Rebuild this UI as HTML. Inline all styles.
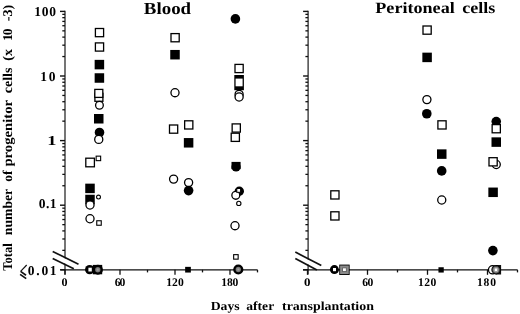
<!DOCTYPE html>
<html><head><meta charset="utf-8"><style>
html,body{margin:0;padding:0;background:#fff;}
body{width:520px;height:314px;overflow:hidden;font-family:"Liberation Serif",serif;}
svg{display:block;filter:blur(0.3px);}
</style></head><body>
<svg width="520" height="314" viewBox="0 0 520 314">
<defs><radialGradient id="gg"><stop offset="0" stop-color="#a8a8a8"/><stop offset="1" stop-color="#6a6a6a"/></radialGradient></defs>
<rect width="520" height="314" fill="#fff"/>
<line x1="65.00" y1="10.80" x2="65.00" y2="274.50" stroke="#111" stroke-width="1.15"/>
<line x1="60.00" y1="269.80" x2="65.00" y2="269.80" stroke="#111" stroke-width="1.4"/>
<line x1="62.30" y1="250.35" x2="65.00" y2="250.35" stroke="#111" stroke-width="1.3"/>
<line x1="62.30" y1="238.98" x2="65.00" y2="238.98" stroke="#111" stroke-width="1.3"/>
<line x1="62.30" y1="230.91" x2="65.00" y2="230.91" stroke="#111" stroke-width="1.3"/>
<line x1="62.30" y1="224.65" x2="65.00" y2="224.65" stroke="#111" stroke-width="1.3"/>
<line x1="62.30" y1="219.53" x2="65.00" y2="219.53" stroke="#111" stroke-width="1.3"/>
<line x1="62.30" y1="215.21" x2="65.00" y2="215.21" stroke="#111" stroke-width="1.3"/>
<line x1="62.30" y1="211.46" x2="65.00" y2="211.46" stroke="#111" stroke-width="1.3"/>
<line x1="62.30" y1="208.16" x2="65.00" y2="208.16" stroke="#111" stroke-width="1.3"/>
<line x1="60.00" y1="205.20" x2="65.00" y2="205.20" stroke="#111" stroke-width="1.4"/>
<line x1="62.30" y1="185.75" x2="65.00" y2="185.75" stroke="#111" stroke-width="1.3"/>
<line x1="62.30" y1="174.38" x2="65.00" y2="174.38" stroke="#111" stroke-width="1.3"/>
<line x1="62.30" y1="166.31" x2="65.00" y2="166.31" stroke="#111" stroke-width="1.3"/>
<line x1="62.30" y1="160.05" x2="65.00" y2="160.05" stroke="#111" stroke-width="1.3"/>
<line x1="62.30" y1="154.93" x2="65.00" y2="154.93" stroke="#111" stroke-width="1.3"/>
<line x1="62.30" y1="150.61" x2="65.00" y2="150.61" stroke="#111" stroke-width="1.3"/>
<line x1="62.30" y1="146.86" x2="65.00" y2="146.86" stroke="#111" stroke-width="1.3"/>
<line x1="62.30" y1="143.56" x2="65.00" y2="143.56" stroke="#111" stroke-width="1.3"/>
<line x1="60.00" y1="140.60" x2="65.00" y2="140.60" stroke="#111" stroke-width="1.4"/>
<line x1="62.30" y1="121.15" x2="65.00" y2="121.15" stroke="#111" stroke-width="1.3"/>
<line x1="62.30" y1="109.78" x2="65.00" y2="109.78" stroke="#111" stroke-width="1.3"/>
<line x1="62.30" y1="101.71" x2="65.00" y2="101.71" stroke="#111" stroke-width="1.3"/>
<line x1="62.30" y1="95.45" x2="65.00" y2="95.45" stroke="#111" stroke-width="1.3"/>
<line x1="62.30" y1="90.33" x2="65.00" y2="90.33" stroke="#111" stroke-width="1.3"/>
<line x1="62.30" y1="86.01" x2="65.00" y2="86.01" stroke="#111" stroke-width="1.3"/>
<line x1="62.30" y1="82.26" x2="65.00" y2="82.26" stroke="#111" stroke-width="1.3"/>
<line x1="62.30" y1="78.96" x2="65.00" y2="78.96" stroke="#111" stroke-width="1.3"/>
<line x1="60.00" y1="76.00" x2="65.00" y2="76.00" stroke="#111" stroke-width="1.4"/>
<line x1="62.30" y1="56.55" x2="65.00" y2="56.55" stroke="#111" stroke-width="1.3"/>
<line x1="62.30" y1="45.18" x2="65.00" y2="45.18" stroke="#111" stroke-width="1.3"/>
<line x1="62.30" y1="37.11" x2="65.00" y2="37.11" stroke="#111" stroke-width="1.3"/>
<line x1="62.30" y1="30.85" x2="65.00" y2="30.85" stroke="#111" stroke-width="1.3"/>
<line x1="62.30" y1="25.73" x2="65.00" y2="25.73" stroke="#111" stroke-width="1.3"/>
<line x1="62.30" y1="21.41" x2="65.00" y2="21.41" stroke="#111" stroke-width="1.3"/>
<line x1="62.30" y1="17.66" x2="65.00" y2="17.66" stroke="#111" stroke-width="1.3"/>
<line x1="62.30" y1="14.36" x2="65.00" y2="14.36" stroke="#111" stroke-width="1.3"/>
<line x1="60.00" y1="11.40" x2="65.00" y2="11.40" stroke="#111" stroke-width="1.4"/>
<line x1="308.10" y1="10.80" x2="308.10" y2="274.50" stroke="#111" stroke-width="1.15"/>
<line x1="303.10" y1="269.80" x2="308.10" y2="269.80" stroke="#111" stroke-width="1.4"/>
<line x1="305.40" y1="250.35" x2="308.10" y2="250.35" stroke="#111" stroke-width="1.3"/>
<line x1="305.40" y1="238.98" x2="308.10" y2="238.98" stroke="#111" stroke-width="1.3"/>
<line x1="305.40" y1="230.91" x2="308.10" y2="230.91" stroke="#111" stroke-width="1.3"/>
<line x1="305.40" y1="224.65" x2="308.10" y2="224.65" stroke="#111" stroke-width="1.3"/>
<line x1="305.40" y1="219.53" x2="308.10" y2="219.53" stroke="#111" stroke-width="1.3"/>
<line x1="305.40" y1="215.21" x2="308.10" y2="215.21" stroke="#111" stroke-width="1.3"/>
<line x1="305.40" y1="211.46" x2="308.10" y2="211.46" stroke="#111" stroke-width="1.3"/>
<line x1="305.40" y1="208.16" x2="308.10" y2="208.16" stroke="#111" stroke-width="1.3"/>
<line x1="303.10" y1="205.20" x2="308.10" y2="205.20" stroke="#111" stroke-width="1.4"/>
<line x1="305.40" y1="185.75" x2="308.10" y2="185.75" stroke="#111" stroke-width="1.3"/>
<line x1="305.40" y1="174.38" x2="308.10" y2="174.38" stroke="#111" stroke-width="1.3"/>
<line x1="305.40" y1="166.31" x2="308.10" y2="166.31" stroke="#111" stroke-width="1.3"/>
<line x1="305.40" y1="160.05" x2="308.10" y2="160.05" stroke="#111" stroke-width="1.3"/>
<line x1="305.40" y1="154.93" x2="308.10" y2="154.93" stroke="#111" stroke-width="1.3"/>
<line x1="305.40" y1="150.61" x2="308.10" y2="150.61" stroke="#111" stroke-width="1.3"/>
<line x1="305.40" y1="146.86" x2="308.10" y2="146.86" stroke="#111" stroke-width="1.3"/>
<line x1="305.40" y1="143.56" x2="308.10" y2="143.56" stroke="#111" stroke-width="1.3"/>
<line x1="303.10" y1="140.60" x2="308.10" y2="140.60" stroke="#111" stroke-width="1.4"/>
<line x1="305.40" y1="121.15" x2="308.10" y2="121.15" stroke="#111" stroke-width="1.3"/>
<line x1="305.40" y1="109.78" x2="308.10" y2="109.78" stroke="#111" stroke-width="1.3"/>
<line x1="305.40" y1="101.71" x2="308.10" y2="101.71" stroke="#111" stroke-width="1.3"/>
<line x1="305.40" y1="95.45" x2="308.10" y2="95.45" stroke="#111" stroke-width="1.3"/>
<line x1="305.40" y1="90.33" x2="308.10" y2="90.33" stroke="#111" stroke-width="1.3"/>
<line x1="305.40" y1="86.01" x2="308.10" y2="86.01" stroke="#111" stroke-width="1.3"/>
<line x1="305.40" y1="82.26" x2="308.10" y2="82.26" stroke="#111" stroke-width="1.3"/>
<line x1="305.40" y1="78.96" x2="308.10" y2="78.96" stroke="#111" stroke-width="1.3"/>
<line x1="303.10" y1="76.00" x2="308.10" y2="76.00" stroke="#111" stroke-width="1.4"/>
<line x1="305.40" y1="56.55" x2="308.10" y2="56.55" stroke="#111" stroke-width="1.3"/>
<line x1="305.40" y1="45.18" x2="308.10" y2="45.18" stroke="#111" stroke-width="1.3"/>
<line x1="305.40" y1="37.11" x2="308.10" y2="37.11" stroke="#111" stroke-width="1.3"/>
<line x1="305.40" y1="30.85" x2="308.10" y2="30.85" stroke="#111" stroke-width="1.3"/>
<line x1="305.40" y1="25.73" x2="308.10" y2="25.73" stroke="#111" stroke-width="1.3"/>
<line x1="305.40" y1="21.41" x2="308.10" y2="21.41" stroke="#111" stroke-width="1.3"/>
<line x1="305.40" y1="17.66" x2="308.10" y2="17.66" stroke="#111" stroke-width="1.3"/>
<line x1="305.40" y1="14.36" x2="308.10" y2="14.36" stroke="#111" stroke-width="1.3"/>
<line x1="303.10" y1="11.40" x2="308.10" y2="11.40" stroke="#111" stroke-width="1.4"/>
<line x1="60.50" y1="269.80" x2="257.50" y2="269.80" stroke="#111" stroke-width="1.3"/>
<line x1="65.00" y1="269.80" x2="65.00" y2="274.80" stroke="#111" stroke-width="1.3"/>
<line x1="92.50" y1="269.80" x2="92.50" y2="272.40" stroke="#111" stroke-width="1.3"/>
<line x1="120.00" y1="269.80" x2="120.00" y2="274.80" stroke="#111" stroke-width="1.3"/>
<line x1="147.50" y1="269.80" x2="147.50" y2="272.40" stroke="#111" stroke-width="1.3"/>
<line x1="175.00" y1="269.80" x2="175.00" y2="274.80" stroke="#111" stroke-width="1.3"/>
<line x1="202.50" y1="269.80" x2="202.50" y2="272.40" stroke="#111" stroke-width="1.3"/>
<line x1="230.00" y1="269.80" x2="230.00" y2="274.80" stroke="#111" stroke-width="1.3"/>
<line x1="257.50" y1="269.80" x2="257.50" y2="272.40" stroke="#111" stroke-width="1.3"/>
<line x1="303.00" y1="269.80" x2="517.50" y2="269.80" stroke="#111" stroke-width="1.3"/>
<line x1="307.50" y1="269.80" x2="307.50" y2="274.80" stroke="#111" stroke-width="1.3"/>
<line x1="337.50" y1="269.80" x2="337.50" y2="272.40" stroke="#111" stroke-width="1.3"/>
<line x1="367.50" y1="269.80" x2="367.50" y2="274.80" stroke="#111" stroke-width="1.3"/>
<line x1="397.50" y1="269.80" x2="397.50" y2="272.40" stroke="#111" stroke-width="1.3"/>
<line x1="427.50" y1="269.80" x2="427.50" y2="274.80" stroke="#111" stroke-width="1.3"/>
<line x1="457.50" y1="269.80" x2="457.50" y2="272.40" stroke="#111" stroke-width="1.3"/>
<line x1="487.50" y1="269.80" x2="487.50" y2="274.80" stroke="#111" stroke-width="1.3"/>
<line x1="517.50" y1="269.80" x2="517.50" y2="272.40" stroke="#111" stroke-width="1.3"/>
<polygon points="59.00,255.43 71.00,261.38 71.00,266.52 59.00,260.61" fill="#fff"/>
<line x1="52.70" y1="251.40" x2="78.50" y2="264.20" stroke="#111" stroke-width="1.7"/>
<line x1="52.70" y1="258.40" x2="73.80" y2="268.80" stroke="#111" stroke-width="1.7"/>
<polygon points="302.10,256.53 314.10,262.76 314.10,267.62 302.10,261.29" fill="#fff"/>
<line x1="295.30" y1="252.10" x2="321.30" y2="265.60" stroke="#111" stroke-width="1.7"/>
<line x1="295.30" y1="258.60" x2="316.90" y2="270.00" stroke="#111" stroke-width="1.7"/>
<path d="M26.7,265.0 L20.6,271.4" fill="none" stroke="#111" stroke-width="1.2"/>
<path d="M20.6,271.4 L26.0,275.3" fill="none" stroke="#111" stroke-width="1.7"/>
<path d="M20.1,274.4 L26.2,278.6" fill="none" stroke="#111" stroke-width="1.7"/>
<rect x="95.40" y="28.50" width="8.20" height="8.20" fill="#fff" stroke="#000" stroke-width="1.3"/>
<rect x="95.40" y="42.90" width="8.20" height="8.20" fill="#fff" stroke="#000" stroke-width="1.3"/>
<rect x="94.65" y="59.85" width="9.50" height="9.50" fill="#000"/>
<rect x="94.65" y="73.25" width="9.50" height="9.50" fill="#000"/>
<rect x="94.90" y="93.30" width="8.00" height="8.00" fill="#fff" stroke="#000" stroke-width="1.3"/>
<rect x="94.80" y="89.40" width="8.00" height="8.00" fill="#fff" stroke="#000" stroke-width="1.3"/>
<circle cx="99.45" cy="105.25" r="3.85" fill="#fff" stroke="#000" stroke-width="1.3"/>
<rect x="94.00" y="114.00" width="9.50" height="9.50" fill="#000"/>
<circle cx="99.50" cy="132.50" r="4.80" fill="#000"/>
<circle cx="98.75" cy="139.40" r="4.05" fill="#fff" stroke="#000" stroke-width="1.3"/>
<rect x="85.80" y="158.20" width="8.60" height="8.60" fill="#fff" stroke="#000" stroke-width="1.3"/>
<rect x="96.15" y="156.15" width="4.50" height="4.50" fill="#fff" stroke="#000" stroke-width="1.1"/>
<rect x="85.25" y="183.65" width="9.50" height="9.50" fill="#000"/>
<rect x="85.25" y="194.75" width="9.50" height="9.50" fill="#000"/>
<circle cx="90.00" cy="205.00" r="4.05" fill="#fff" stroke="#000" stroke-width="1.3"/>
<circle cx="98.50" cy="197.10" r="1.95" fill="#fff" stroke="#000" stroke-width="1.1"/>
<circle cx="90.00" cy="218.75" r="4.05" fill="#fff" stroke="#000" stroke-width="1.3"/>
<rect x="96.75" y="220.75" width="4.50" height="4.50" fill="#fff" stroke="#000" stroke-width="1.1"/>
<circle cx="89.70" cy="269.60" r="4.70" fill="#000"/>
<rect x="88.4" y="267.7" width="3.4" height="3.8" fill="#fff"/>
<rect x="92.80" y="264.90" width="9.40" height="9.40" fill="#000"/>
<circle cx="97.90" cy="269.70" r="5.00" fill="#000"/>
<circle cx="97.8" cy="269.7" r="2.7" fill="url(#gg)"/>
<rect x="171.00" y="33.60" width="8.20" height="8.20" fill="#fff" stroke="#000" stroke-width="1.3"/>
<rect x="170.25" y="49.95" width="9.50" height="9.50" fill="#000"/>
<circle cx="175.00" cy="92.70" r="4.05" fill="#fff" stroke="#000" stroke-width="1.3"/>
<rect x="169.50" y="125.00" width="8.20" height="8.20" fill="#fff" stroke="#000" stroke-width="1.3"/>
<rect x="184.65" y="120.80" width="8.20" height="8.20" fill="#fff" stroke="#000" stroke-width="1.3"/>
<rect x="183.85" y="138.05" width="9.50" height="9.50" fill="#000"/>
<circle cx="173.60" cy="179.10" r="4.05" fill="#fff" stroke="#000" stroke-width="1.3"/>
<circle cx="188.60" cy="182.60" r="4.05" fill="#fff" stroke="#000" stroke-width="1.3"/>
<circle cx="188.60" cy="190.60" r="4.80" fill="#000"/>
<rect x="185.15" y="266.85" width="5.70" height="5.70" fill="#000"/>
<circle cx="235.40" cy="18.90" r="4.80" fill="#000"/>
<rect x="235.00" y="64.40" width="8.20" height="8.20" fill="#fff" stroke="#000" stroke-width="1.3"/>
<rect x="234.3" y="75.0" width="9.6" height="15.2" fill="#000"/>
<rect x="235.6" y="78.6" width="7.0" height="7.7" fill="#fff"/>
<circle cx="239.10" cy="94.40" r="4.05" fill="#fff" stroke="#000" stroke-width="1.3"/>
<circle cx="239.10" cy="97.00" r="4.05" fill="#fff" stroke="#000" stroke-width="1.3"/>
<rect x="232.15" y="123.90" width="8.20" height="8.20" fill="#fff" stroke="#000" stroke-width="1.3"/>
<rect x="231.20" y="133.20" width="8.20" height="8.20" fill="#fff" stroke="#000" stroke-width="1.3"/>
<rect x="231.5" y="161.9" width="9.1" height="7.3" fill="#000"/>
<circle cx="236.05" cy="166.90" r="4.60" fill="#000"/>
<circle cx="239.30" cy="191.20" r="4.70" fill="#000"/>
<circle cx="235.80" cy="195.30" r="3.95" fill="#fff" stroke="#000" stroke-width="1.3"/>
<rect x="236.80" y="188.50" width="3.80" height="3.80" fill="#fff" stroke="#000" stroke-width="1.0"/>
<circle cx="238.80" cy="203.40" r="2.15" fill="#fff" stroke="#000" stroke-width="1.1"/>
<circle cx="235.00" cy="225.70" r="4.05" fill="#fff" stroke="#000" stroke-width="1.3"/>
<rect x="233.65" y="254.65" width="4.50" height="4.50" fill="#fff" stroke="#000" stroke-width="1.1"/>
<circle cx="238.30" cy="269.50" r="5.10" fill="#000"/>
<circle cx="238.3" cy="269.5" r="2.7" fill="url(#gg)"/>
<rect x="330.80" y="190.80" width="8.20" height="8.20" fill="#fff" stroke="#000" stroke-width="1.3"/>
<rect x="330.80" y="211.80" width="8.20" height="8.20" fill="#fff" stroke="#000" stroke-width="1.3"/>
<rect x="340.10" y="265.45" width="8.70" height="8.70" fill="#fff" stroke="#000" stroke-width="1.7"/>
<rect x="340.1" y="265.5" width="8.7" height="8.6" fill="#8a8a8a"/>
<rect x="342.6" y="267.9" width="3.7" height="3.7" fill="#fff" stroke="#555" stroke-width="0.8"/>
<circle cx="334.40" cy="269.60" r="4.50" fill="#000"/>
<rect x="333.0" y="268.0" width="3.0" height="3.2" fill="#fff"/>
<rect x="423.00" y="26.00" width="8.20" height="8.20" fill="#fff" stroke="#000" stroke-width="1.3"/>
<rect x="422.35" y="52.65" width="9.50" height="9.50" fill="#000"/>
<circle cx="426.90" cy="99.60" r="4.05" fill="#fff" stroke="#000" stroke-width="1.3"/>
<circle cx="426.80" cy="113.75" r="4.80" fill="#000"/>
<rect x="437.90" y="120.80" width="8.20" height="8.20" fill="#fff" stroke="#000" stroke-width="1.3"/>
<rect x="437.00" y="149.35" width="9.50" height="9.50" fill="#000"/>
<circle cx="441.70" cy="170.90" r="4.80" fill="#000"/>
<circle cx="441.75" cy="200.00" r="4.05" fill="#fff" stroke="#000" stroke-width="1.3"/>
<rect x="438.45" y="267.25" width="5.30" height="5.30" fill="#000"/>
<circle cx="496.25" cy="121.60" r="4.80" fill="#000"/>
<rect x="492.15" y="124.60" width="8.20" height="8.20" fill="#fff" stroke="#000" stroke-width="1.3"/>
<rect x="491.50" y="137.35" width="9.50" height="9.50" fill="#000"/>
<circle cx="496.25" cy="164.50" r="4.05" fill="#fff" stroke="#000" stroke-width="1.3"/>
<rect x="489.00" y="157.70" width="8.20" height="8.20" fill="#fff" stroke="#000" stroke-width="1.3"/>
<rect x="488.35" y="187.55" width="9.50" height="9.50" fill="#000"/>
<circle cx="492.90" cy="250.60" r="4.80" fill="#000"/>
<circle cx="492.60" cy="269.80" r="4.15" fill="#fff" stroke="#000" stroke-width="1.3"/>
<rect x="495.5" y="265.0" width="5.6" height="9.5" fill="#111"/>
<circle cx="496.10" cy="269.75" r="4.75" fill="#000"/>
<circle cx="496.0" cy="269.8" r="3.5" fill="#8e8e8e" stroke="#333" stroke-width="0.7"/>
<rect x="494.3" y="268.1" width="3.4" height="3.4" fill="#fff" stroke="#888" stroke-width="0.6"/>
<text x="143.89" y="13.74" font-family="Liberation Serif" font-weight="bold" text-rendering="geometricPrecision" font-size="17.00" textLength="47.25" lengthAdjust="spacingAndGlyphs">Blood</text>
<text x="375.31" y="12.75" font-family="Liberation Serif" font-weight="bold" text-rendering="geometricPrecision" font-size="15.80" textLength="79.45" lengthAdjust="spacingAndGlyphs">Peritoneal</text>
<text x="462.33" y="12.75" font-family="Liberation Serif" font-weight="bold" text-rendering="geometricPrecision" font-size="15.80" textLength="33.04" lengthAdjust="spacingAndGlyphs">cells</text>
<text x="210.67" y="309.90" font-family="Liberation Serif" font-weight="bold" text-rendering="geometricPrecision" font-size="12.40" textLength="28.99" lengthAdjust="spacingAndGlyphs">Days</text>
<text x="246.34" y="309.90" font-family="Liberation Serif" font-weight="bold" text-rendering="geometricPrecision" font-size="12.40" textLength="27.82" lengthAdjust="spacingAndGlyphs">after</text>
<text x="282.09" y="309.90" font-family="Liberation Serif" font-weight="bold" text-rendering="geometricPrecision" font-size="12.40" textLength="91.83" lengthAdjust="spacingAndGlyphs">transplantation</text>
<text x="34.26" y="16.14" font-family="Liberation Serif" font-weight="bold" text-rendering="geometricPrecision" font-size="13.50" textLength="21.82" lengthAdjust="spacing">100</text>
<text x="40.26" y="80.54" font-family="Liberation Serif" font-weight="bold" text-rendering="geometricPrecision" font-size="13.50" textLength="15.24" lengthAdjust="spacing">10</text>
<text x="47.22" y="145.29" font-family="Liberation Serif" font-weight="bold" text-rendering="geometricPrecision" font-size="13.50" textLength="9.24" lengthAdjust="spacingAndGlyphs">1</text>
<text x="38.75" y="208.29" font-family="Liberation Serif" font-weight="bold" text-rendering="geometricPrecision" font-size="13.50" textLength="17.77" lengthAdjust="spacing">0.1</text>
<text x="27.85" y="275.01" font-family="Liberation Serif" font-weight="bold" text-rendering="geometricPrecision" font-size="13.50" textLength="28.77" lengthAdjust="spacing">0.01</text>
<text x="61.63" y="286.18" font-family="Liberation Serif" font-weight="bold" text-rendering="geometricPrecision" font-size="11.60" textLength="6.03" lengthAdjust="spacingAndGlyphs">0</text>
<text x="114.63" y="286.21" font-family="Liberation Serif" font-weight="bold" text-rendering="geometricPrecision" font-size="11.60" textLength="10.61" lengthAdjust="spacing">60</text>
<text x="166.29" y="286.14" font-family="Liberation Serif" font-weight="bold" text-rendering="geometricPrecision" font-size="11.60" textLength="17.39" lengthAdjust="spacing">120</text>
<text x="221.29" y="286.14" font-family="Liberation Serif" font-weight="bold" text-rendering="geometricPrecision" font-size="11.60" textLength="16.97" lengthAdjust="spacing">180</text>
<text x="304.14" y="286.19" font-family="Liberation Serif" font-weight="bold" text-rendering="geometricPrecision" font-size="11.60" textLength="6.48" lengthAdjust="spacingAndGlyphs">0</text>
<text x="362.18" y="286.22" font-family="Liberation Serif" font-weight="bold" text-rendering="geometricPrecision" font-size="11.60" textLength="11.16" lengthAdjust="spacing">60</text>
<text x="418.09" y="286.14" font-family="Liberation Serif" font-weight="bold" text-rendering="geometricPrecision" font-size="11.60" textLength="18.12" lengthAdjust="spacing">120</text>
<text x="476.89" y="286.13" font-family="Liberation Serif" font-weight="bold" text-rendering="geometricPrecision" font-size="11.60" textLength="19.13" lengthAdjust="spacing">180</text>
<text transform="translate(11.8,270.70) rotate(-90)" font-family="Liberation Serif" font-weight="bold" text-rendering="geometricPrecision" font-size="13.40" textLength="27.38" lengthAdjust="spacingAndGlyphs">Total</text>
<text transform="translate(11.8,235.20) rotate(-90)" font-family="Liberation Serif" font-weight="bold" text-rendering="geometricPrecision" font-size="13.40" textLength="46.40" lengthAdjust="spacingAndGlyphs">number</text>
<text transform="translate(11.8,181.86) rotate(-90)" font-family="Liberation Serif" font-weight="bold" text-rendering="geometricPrecision" font-size="13.40" textLength="11.25" lengthAdjust="spacingAndGlyphs">of</text>
<text transform="translate(11.8,166.59) rotate(-90)" font-family="Liberation Serif" font-weight="bold" text-rendering="geometricPrecision" font-size="13.40" textLength="66.70" lengthAdjust="spacingAndGlyphs">progenitor</text>
<text transform="translate(11.8,93.25) rotate(-90)" font-family="Liberation Serif" font-weight="bold" text-rendering="geometricPrecision" font-size="13.40" textLength="25.63" lengthAdjust="spacingAndGlyphs">cells</text>
<text transform="translate(11.8,60.77) rotate(-90)" font-family="Liberation Serif" font-weight="bold" text-rendering="geometricPrecision" font-size="13.40" textLength="11.71" lengthAdjust="spacingAndGlyphs">(x</text>
<text transform="translate(11.8,40.85) rotate(-90)" font-family="Liberation Serif" font-weight="bold" text-rendering="geometricPrecision" font-size="13.40" textLength="12.27" lengthAdjust="spacing">10</text>
<text transform="translate(11.8,21.30) rotate(-90)" font-family="Liberation Serif" font-weight="bold" text-rendering="geometricPrecision" font-size="13.40" textLength="16.60" lengthAdjust="spacingAndGlyphs">-3)</text>
</svg>
</body></html>
